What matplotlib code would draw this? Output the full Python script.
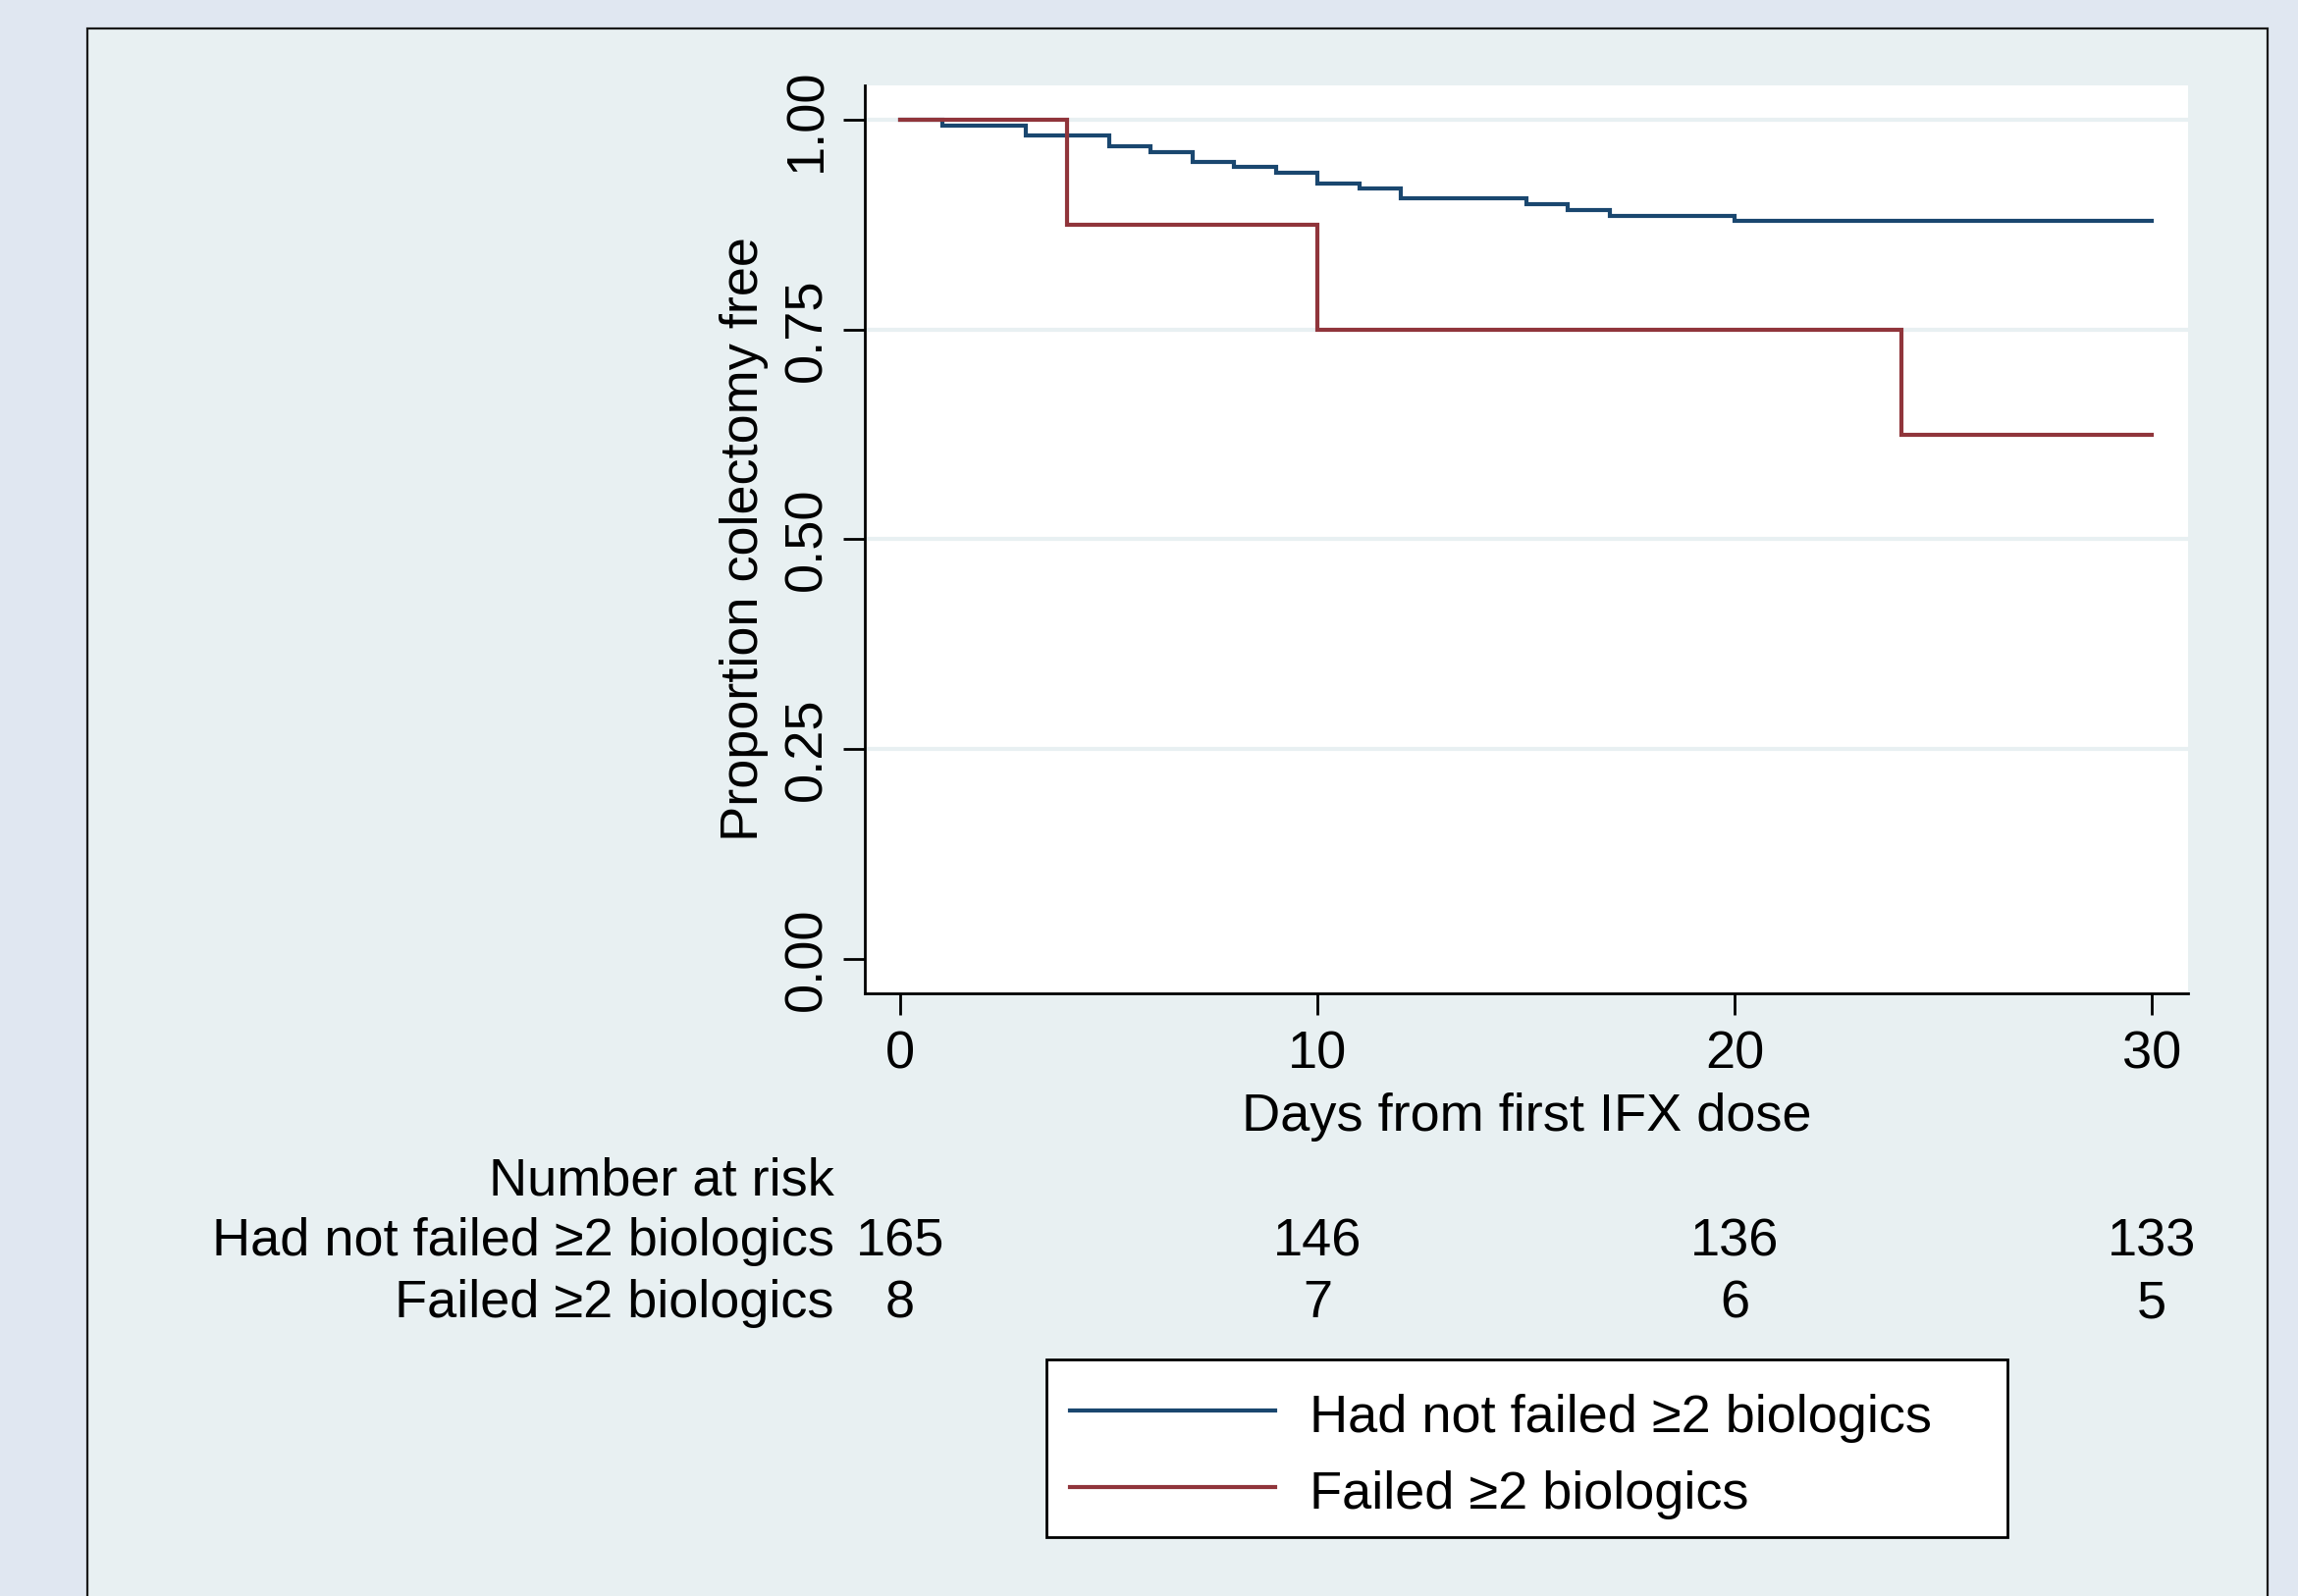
import matplotlib
matplotlib.use("Agg")
import matplotlib.pyplot as plt
from matplotlib.patches import Rectangle
from matplotlib.lines import Line2D
from matplotlib.transforms import blended_transform_factory

plt.rcParams['font.family'] = ['Liberation Sans', 'DejaVu Sans']

# ---- data ----
group_labels = ["Had not failed \u22652 biologics", "Failed \u22652 biologics"]
blue_times = [0, 1, 3, 5, 6, 7, 8, 9, 10, 11, 12, 15, 16, 17, 20]
blue_surv = [1.0, 0.993, 0.981, 0.968, 0.962, 0.950, 0.944, 0.937, 0.924,
             0.918, 0.906, 0.899, 0.892, 0.885, 0.879]
red_times = [0, 4, 10, 24]
red_surv = [1.0, 0.875, 0.75, 0.625]
t_end = 30
risk_times = [0, 10, 20, 30]
risk_blue = [165, 146, 136, 133]
risk_red = [8, 7, 6, 5]
x_ticks = [0, 10, 20, 30]
y_ticks = [0.0, 0.25, 0.5, 0.75, 1.0]
y_tick_labels = ["0.00", "0.25", "0.50", "0.75", "1.00"]

NAVY = "#1a476f"
MAROON = "#90353b"
OUTER_BG = "#e0e7f1"
INNER_BG = "#e8f0f2"
GRID = "#e8f0f2"
FS = 39

W, H = 2341, 1626
fig = plt.figure(figsize=(W / 100, H / 100), dpi=100)
fig.patch.set_facecolor(OUTER_BG)


def fx(px):
    return px / W


def fy(py):
    return 1 - py / H


# inner graph region with black frame
fig.patches.append(Rectangle((fx(89), -0.02), fx(2310 - 89), 1 - 29 / H + 0.02,
                             transform=fig.transFigure, facecolor=INNER_BG,
                             edgecolor="#1a1a1a", linewidth=1.6, zorder=-5))

ax = fig.add_axes([fx(881), fy(1012), fx(2229 - 881), (1012 - 87) / H])
ax.set_zorder(2)
ax.set_facecolor("white")

ax.set_xlim(-0.85, 30.87)
ax.set_ylim(-0.041, 1.041)

for yv in y_ticks[1:]:
    ax.axhline(yv, color=GRID, linewidth=3, zorder=1)

bx = blue_times + [t_end]
by = blue_surv + [blue_surv[-1]]
rx = red_times + [t_end]
ry = red_surv + [red_surv[-1]]
ax.step(bx, by, where="post", color=NAVY, linewidth=3, zorder=3,
        solid_joinstyle="miter")
ax.step(rx, ry, where="post", color=MAROON, linewidth=3, zorder=4,
        solid_joinstyle="miter")

for s in ["top", "right"]:
    ax.spines[s].set_visible(False)
for s in ["left", "bottom"]:
    ax.spines[s].set_linewidth(2)
    ax.spines[s].set_color("black")

ax.set_xticks(x_ticks)
ax.set_xticklabels([str(v) for v in x_ticks])
ax.set_yticks(y_ticks)
ax.set_yticklabels(y_tick_labels)
ax.tick_params(axis="both", direction="out", length=16, width=2, labelsize=FS,
               color="black")
ax.tick_params(axis="x", pad=11)
ax.tick_params(axis="y", pad=8)
for lbl in ax.get_yticklabels():
    lbl.set_rotation(90)
    lbl.set_va("center")

ax.set_xlabel("Days from first IFX dose", fontsize=FS)
ax.xaxis.set_label_coords(0.5, -(1113 - 1012) / 925)
ax.set_ylabel("Proportion colectomy free", fontsize=FS)
ax.yaxis.set_label_coords((783 - 881) / 1348, 0.5)

# number at risk table
tr = blended_transform_factory(ax.transData, fig.transFigure)
lab_x = fx(850)
fig.text(lab_x, fy(1217), "Number at risk", ha="right", va="baseline", fontsize=FS)
fig.text(lab_x, fy(1279), group_labels[0], ha="right", va="baseline", fontsize=FS)
fig.text(lab_x, fy(1342), group_labels[1], ha="right", va="baseline", fontsize=FS)
for t, n1, n2 in zip(risk_times, risk_blue, risk_red):
    ax.text(t, fy(1279), str(n1), transform=tr, ha="center", va="baseline",
            fontsize=FS, clip_on=False)
    ax.text(t, fy(1342), str(n2), transform=tr, ha="center", va="baseline",
            fontsize=FS, clip_on=False)

# legend (drawn as a framed key box)
fig.patches.append(Rectangle((fx(1066), fy(1566)), fx(2045 - 1066), (1566 - 1385) / H,
                             transform=fig.transFigure, facecolor="white",
                             edgecolor="black", linewidth=2, zorder=3))
key_colors = [NAVY, MAROON]
key_line_y = [1437, 1515]
key_text_y = [1459, 1537]
for c, ly, ty, lab in zip(key_colors, key_line_y, key_text_y, group_labels):
    fig.lines.append(Line2D([fx(1090), fx(1299)], [fy(ly), fy(ly)],
                            transform=fig.transFigure, color=c, linewidth=3,
                            zorder=4))
    fig.text(fx(1334), fy(ty), lab, ha="left", va="baseline", fontsize=FS,
             zorder=5)

fig.savefig("out.png", dpi=100, facecolor=fig.get_facecolor())
